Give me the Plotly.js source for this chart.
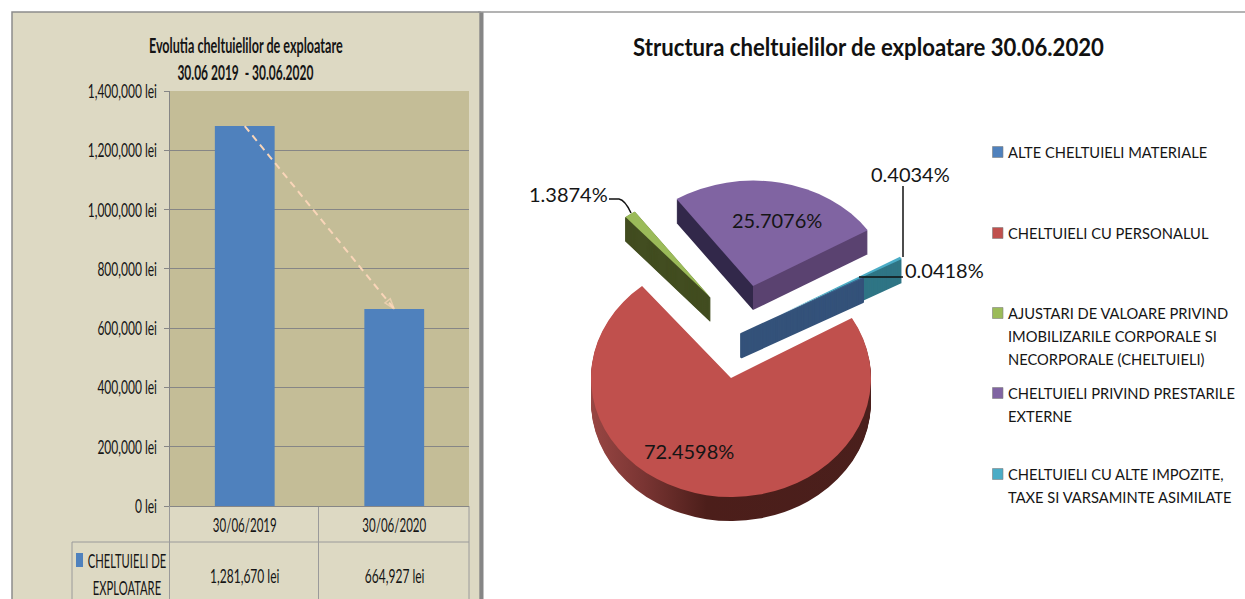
<!DOCTYPE html>
<html><head><meta charset="utf-8">
<script src="https://cdn.plot.ly/plotly-3.0.1.min.js"></script>
<style>html,body{margin:0;padding:0;background:#fff}#c{width:1245px;height:599px}</style>
</head><body><div id="c"></div>
<script>
// ---------- data ----------
const periods = ['30/06/2019', '30/06/2020'];
const expenses = [1281670, 664927];
const seriesName = 'CHELTUIELI DE EXPLOATARE';
const categories = ['ALTE CHELTUIELI MATERIALE', 'CHELTUIELI CU PERSONALUL',
  'AJUSTARI DE VALOARE PRIVIND IMOBILIZARILE CORPORALE SI NECORPORALE (CHELTUIELI)',
  'CHELTUIELI PRIVIND PRESTARILE EXTERNE', 'CHELTUIELI CU ALTE IMPOZITE, TAXE SI VARSAMINTE ASIMILATE'];
const shares = [0.0418, 72.4598, 1.3874, 25.7076, 0.4034];
const sliceColors = ['#4F81BD', '#C0504D', '#9BBB59', '#8064A2', '#4BACC6'];
const pulls = [0, 0.4286, 0.4286, 0.4286, 0.33];
const legendLines = [['ALTE CHELTUIELI MATERIALE'], ['CHELTUIELI CU PERSONALUL'],
  ['AJUSTARI DE VALOARE PRIVIND', 'IMOBILIZARILE CORPORALE SI', 'NECORPORALE (CHELTUIELI)'],
  ['CHELTUIELI PRIVIND PRESTARILE', 'EXTERNE'], ['CHELTUIELI CU ALTE IMPOZITE,', 'TAXE SI VARSAMINTE ASIMILATE']];

// ---------- layout helpers (pixels to paper) ----------
const W = 1245, H = 599;
const px = x => x / W, py = y => 1 - y / H;
const LATO = 'Lato,"Open Sans",sans-serif';
const rect = (x0, y0, x1, y1, fill, line, lw) => ({type:'rect', xref:'paper', yref:'paper', layer:'below',
  x0:px(x0), x1:px(x1), y0:py(y0), y1:py(y1), fillcolor:fill, line:{color:line||fill, width:lw===undefined?0:lw}});
const seg = (x0, y0, x1, y1, color, w) => ({type:'line', xref:'paper', yref:'paper', layer:'below',
  x0:px(x0), x1:px(x1), y0:py(y0), y1:py(y1), line:{color, width:w||1}});
const txt = (x, y, text, size, anchor, bold) => ({xref:'paper', yref:'paper', x:px(x), y:py(y), text,
  showarrow:false, xanchor:anchor||'center', yanchor:'middle', font:{size, family:LATO, color:'#151515', weight:bold?700:400}});

// ---------- pie geometry ----------
const pieR = 140, maxPull = Math.max(...pulls), pieSize = 2 * pieR * (1 + maxPull);
const cx = 741.6, cy = 333, tilt = 0.78, depth = 24;
const pieOrder = [4, 0, 1, 2, 3];
const startAngle = 58.1;
const pieDomain = {x:[px(cx - pieSize/2), px(cx + pieSize/2)], y:[py(cy + pieSize/2), py(cy - pieSize/2)]};
const wallFill = ['#34527A', 'url(#wallRed)', '#424D20', 'url(#wallPurple)', '#2F7585'];
const wallStroke = [3, 0, 1.2, 0, 0];
// per-slice view of the tilted pie: where its apex lands, radial shrink, tilt
const sliceView = [
  {shrink:1, tilt},
  {ax:731, ay:378, shrink:1, tilt:0.85},
  {ax:710, ay:297, shrink:0.95, tilt},
  {ax:753, ay:286, shrink:0.965, tilt},
  {shrink:1, tilt}
];
function pieTrace(name){
  return {type:'pie', name, sort:false, direction:'clockwise', rotation:startAngle, domain:pieDomain,
    labels:pieOrder.map(i=>categories[i]), values:pieOrder.map(i=>shares[i]), pull:pieOrder.map(i=>pulls[i]),
    marker:{colors:pieOrder.map(i=>sliceColors[i]), line:{width:0}}, textinfo:'none', hoverinfo:'label+percent', showlegend:false};
}

// ---------- traces ----------
const traces = [
  {type:'bar', x:periods, y:expenses, name:seriesName, marker:{color:'#4F81BD'}, hoverinfo:'x+y', showlegend:false},
  {type:'scatter', mode:'lines+markers', x:periods, y:expenses, hoverinfo:'skip', showlegend:false,
    line:{color:'#F9D5B8', width:2, dash:'7px,5px'},
    marker:{symbol:'arrow-open', angleref:'previous', size:[0,11], color:'#F9D5B8', line:{color:'#F9D5B8', width:1.5}}}
];
for (let k = depth; k >= 0; k--) traces.push(pieTrace('k' + k));

// ---------- decorations ----------
const shapes = [
  rect(12, 12, 480, 610, '#DDD9C3', '#8C8C8C', 1.5),
  rect(480, 12, 483.5, 610, '#868686'),
  seg(478, 12, W + 2, 12, '#9A9A9A', 1.5),
  rect(170, 91, 469, 506, '#C4BD97'),
  seg(318.5, 506, 318.5, 610, '#9A9A9A'),
  seg(469, 506, 469, 610, '#9A9A9A'),
  seg(169.5, 506, 169.5, 610, '#9A9A9A'),
  seg(72, 542, 469, 542, '#9A9A9A'),
  seg(72, 542, 72, 610, '#9A9A9A'),
  rect(76, 553, 83, 567, '#4F81BD'),
  {type:'path', xref:'paper', yref:'paper', path:`M${px(609)},${py(199)} L${px(619)},${py(199)} Q${px(625)},${py(200)} ${px(631)},${py(213)}`, line:{color:'#111', width:1.5}},
  {type:'line', xref:'paper', yref:'paper', x0:px(903), x1:px(903), y0:py(186), y1:py(257), line:{color:'#111', width:1.5}},
  {type:'line', xref:'paper', yref:'paper', x0:px(859), x1:px(903), y0:py(277), y1:py(277), line:{color:'#111', width:1.5}}
];
const legendY = [152, 233, 313, 393, 474];
legendY.forEach((y,i)=>shapes.push(rect(992.5, y-5.5, 1003, y+5.5, sliceColors[i], '#7f7f7f', 0.6)));

const LEFT_SIZE = 20;
const annotations = [
  txt(245.5, 45, 'Evolutia cheltuielilor de exploatare', LEFT_SIZE, 'center', true),
  txt(245.5, 72, '30.06 2019  - 30.06.2020', LEFT_SIZE, 'center', true),
  txt(126.5, 560, 'CHELTUIELI DE', LEFT_SIZE),
  txt(126.5, 587, 'EXPLOATARE', LEFT_SIZE),
  txt(244.5, 575, expenses[0].toLocaleString('en-US') + ' lei', LEFT_SIZE),
  txt(394, 575, expenses[1].toLocaleString('en-US') + ' lei', LEFT_SIZE),
];
const leftSqueeze = [0.63, 0.60, 0.56, 0.56, 0.60, 0.60];
annotations.push(
  txt(689, 451, shares[1].toFixed(4) + '%', 20),
  txt(777, 220, shares[3].toFixed(4) + '%', 20),
  txt(568, 194, shares[2].toFixed(4) + '%', 20),
  txt(910, 174, shares[4].toFixed(4) + '%', 20),
  txt(944, 270, shares[0].toFixed(4) + '%', 20)
);
const legendStep = 23;
legendLines.forEach((lines,i)=>lines.forEach((l,j)=>annotations.push(txt(1006, legendY[i] + j*legendStep, l, 14.7, 'left'))));

const layout = {
  width:W, height:H, margin:{l:0,r:0,t:0,b:0}, paper_bgcolor:'#fff', plot_bgcolor:'rgba(0,0,0,0)', autosize:false,
  title:{text:'Structura cheltuielilor de exploatare 30.06.2020', x:px(868.5), xanchor:'center', y:py(48), yanchor:'middle', font:{family:LATO, size:24, color:'#111', weight:700}},
  bargap:0.6, showlegend:false, shapes, annotations,
  xaxis:{domain:[px(170), px(469)], anchor:'y', type:'category', range:[-0.5,1.5], showgrid:false, showline:false, ticks:'', zeroline:false,
    tickfont:{family:LATO, size:LEFT_SIZE, color:'#151515'}, ticklabelstandoff:5},
  yaxis:{domain:[py(506), py(91)], anchor:'x', range:[0,1400000], tickmode:'linear', tick0:0, dtick:200000, tickformat:',d', ticksuffix:' lei',
    gridcolor:'#868686', gridwidth:1, showline:true, linecolor:'#868686', ticks:'outside', ticklen:5, tickcolor:'#868686', zeroline:true, zerolinecolor:'#868686',
    tickfont:{family:LATO, size:LEFT_SIZE, color:'#151515'}, ticklabelstandoff:3}
};

// narrow a drawn text horizontally, around its own anchor
function squeeze(el, factor){
  const w = el.getComputedTextLength();
  el.setAttribute('lengthAdjust', 'spacingAndGlyphs');
  el.setAttribute('textLength', (w * factor).toFixed(1));
}

Plotly.newPlot('c', traces, layout, {displayModeBar:false, responsive:false}).then(gd => {
  const svg = gd.querySelector('.main-svg');
  const NS = 'http://www.w3.org/2000/svg';
  const defs = document.createElementNS(NS, 'defs');
  const grad = (id, stops) => {
    const g = document.createElementNS(NS, 'linearGradient');
    g.setAttribute('id', id); g.setAttribute('gradientUnits', 'userSpaceOnUse');
    g.setAttribute('x1', 585); g.setAttribute('x2', 875); g.setAttribute('y1', 0); g.setAttribute('y2', 0);
    stops.forEach(([o,c])=>{const s=document.createElementNS(NS,'stop'); s.setAttribute('offset',o); s.setAttribute('stop-color',c); g.appendChild(s);});
    defs.appendChild(g);
  };
  grad('wallRed', [[0,'#9C4845'],[0.2,'#7A3533'],[0.42,'#4C1E1A'],[1,'#4A1F1C']]);
  grad('wallPurple', [[0,'#32284A'],[0.581,'#32284A'],[0.581,'#5A4270'],[1,'#5A4270']]);
  svg.insertBefore(defs, svg.firstChild);

  // apex of each slice in the flat pie Plotly draws
  const total = shares.reduce((a,b)=>a+b,0);
  let acc = startAngle; const apexX = {}, apexY = {};
  pieOrder.forEach(i=>{
    const sw = shares[i]/total*360, mid = (acc + sw/2)*Math.PI/180; acc += sw;
    apexX[i] = cx + pulls[i]*pieR*Math.sin(mid);
    apexY[i] = cy - pulls[i]*pieR*Math.cos(mid);
  });
  const pieTr = [...gd.querySelectorAll('.pielayer > .trace')];
  const lastWall = pieTr[pieTr.length - 2];
  const blueWalls = [];
  pieTr.forEach((tr, t) => {
    const k = depth - t;
    tr.querySelectorAll('.slice').forEach((sl, j) => {
      const i = pieOrder[j], v = sliceView[i];
      const tx = v.ax === undefined ? apexX[i] : v.ax;
      const ty = v.ay === undefined ? cy + (apexY[i]-cy)*v.tilt : v.ay;
      sl.setAttribute('transform', `translate(${tx},${ty + k}) scale(${v.shrink},${v.shrink*v.tilt}) translate(${-apexX[i]},${-apexY[i]})`);
      const p = sl.querySelector('path');
      if (k > 0) {
        p.style.fill = wallFill[i];
        if (wallStroke[i]) { p.style.stroke = wallFill[i]; p.style.strokeWidth = wallStroke[i] + 'px'; }
        if (i === 0) blueWalls.push(sl);
      }
    });
  });
  // the thin front slice's wall stays in front of its neighbour's wall
  blueWalls.forEach(sl => lastWall.appendChild(sl));

  const ann = [...gd.querySelectorAll('.annotation-text')];
  leftSqueeze.forEach((f,i)=>squeeze(ann[i], f));
  gd.querySelectorAll('.xtick text').forEach(el => squeeze(el, 0.575));
  gd.querySelectorAll('.ytick text').forEach(el => squeeze(el, 0.60));
  const title = gd.querySelector('.gtitle');
  if (title) squeeze(title, 0.923);
});
</script></body></html>
